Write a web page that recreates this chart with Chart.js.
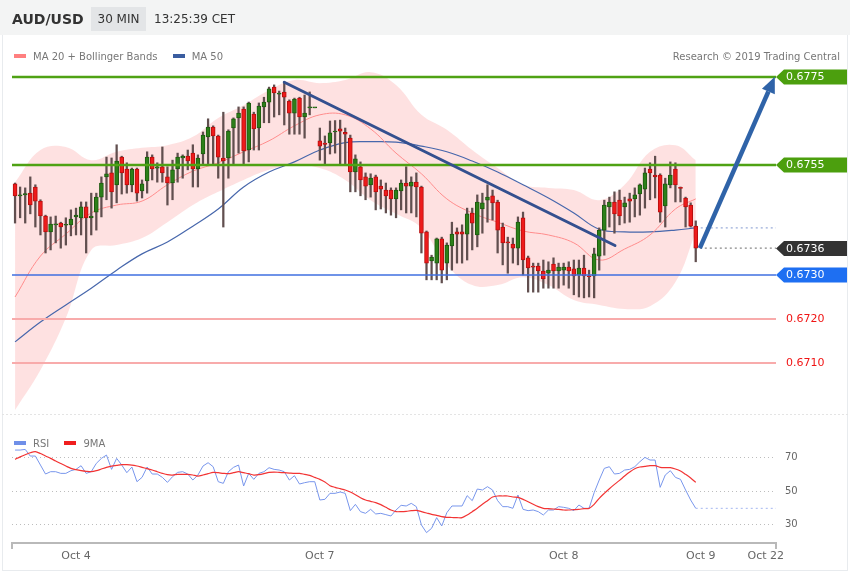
<!DOCTYPE html>
<html lang="en">
<head>
<meta charset="utf-8">
<title>AUD/USD 30 MIN</title>
<script src="https://cdn.jsdelivr.net/npm/chart.js@4.4.1/dist/chart.umd.min.js"></script>
<style>
    body { margin: 0; background: #fff; font-family: "DejaVu Sans", sans-serif; }
    .wrap { position: relative; width: 850px; height: 576px; overflow: hidden; }
    .head { position: absolute; left: 0; top: 0; width: 850px; height: 35px; background: #f3f4f4; }
    .frame { position: absolute; left: 2px; top: 35px; width: 846px; height: 536px; border: 1px solid #e8ebee; border-top: none; box-sizing: border-box; }
    .symbol { position: absolute; left: 12px; top: 7px; line-height: 24px; font-size: 14px; font-weight: bold; color: #333; }
    .period { position: absolute; left: 91px; top: 7px; width: 55px; height: 24px; line-height: 24px; text-align: center; background: #e3e5e7; font-size: 12px; color: #333; }
    .time { position: absolute; left: 154px; top: 7px; line-height: 24px; font-size: 12px; color: #333; }
    .legend { position: absolute; font-size: 10px; color: #777; line-height: 12px; white-space: nowrap; }
    .legend span.sw { display: inline-block; width: 12px; height: 4px; vertical-align: middle; margin-right: 7px; position: relative; top: -1px; }
    .legend .item { margin-right: 12px; }
    canvas { position: absolute; left: 0; top: 0; }
</style>
</head>
<body>
<div class="wrap">
    <div class="head"></div>
    <div class="frame"></div>
    <canvas id="chart" width="850" height="576"></canvas>
    <div class="symbol">AUD/USD</div>
    <div class="period">30 MIN</div>
    <div class="time">13:25:39 CET</div>
    <div class="legend" style="left:14px; top:51px;">
        <span class="item"><span class="sw" style="background:#ff7f7f"></span>MA 20 + Bollinger Bands</span>
        <span class="item"><span class="sw" style="background:#3a5da0"></span>MA 50</span>
    </div>
    <div class="legend" style="right:10px; top:51px;">Research © 2019 Trading Central</div>
    <div class="legend" style="left:14px; top:438px;">
        <span class="item"><span class="sw" style="background:#6f8fe8"></span>RSI</span>
        <span class="item"><span class="sw" style="background:#f01e1e"></span>9MA</span>
    </div>
</div>

<script>
// 30 min candles (index 0 = first bar on the left)
const candleOpen = [
    0.67507, 0.67480, 0.67482, 0.67486, 0.67500, 0.67468, 0.67434, 0.67398, 0.67414, 0.67418,
    0.67413, 0.67414, 0.67432, 0.67430, 0.67455, 0.67430, 0.67443, 0.67477, 0.67523, 0.67532,
    0.67505, 0.67568, 0.67541, 0.67505, 0.67541, 0.67491, 0.67514, 0.67568, 0.67543, 0.67546,
    0.67523, 0.67509, 0.67541, 0.67566, 0.67570, 0.67577, 0.67541, 0.67575, 0.67614, 0.67636,
    0.67616, 0.67566, 0.67566, 0.67634, 0.67657, 0.67677, 0.67584, 0.67666, 0.67634, 0.67682,
    0.67693, 0.67727, 0.67711, 0.67716, 0.67695, 0.67668, 0.67702, 0.67659, 0.67680, 0.67680,
    0.67605, 0.67600, 0.67600, 0.67625, 0.67632, 0.67624, 0.67611, 0.67534, 0.67546, 0.67523,
    0.67505, 0.67523, 0.67502, 0.67493, 0.67493, 0.67473, 0.67491, 0.67509, 0.67502, 0.67511,
    0.67500, 0.67398, 0.67332, 0.67327, 0.67382, 0.67327, 0.67366, 0.67398, 0.67398, 0.67393,
    0.67441, 0.67391, 0.67450, 0.67470, 0.67480, 0.67466, 0.67409, 0.67375, 0.67370, 0.67361,
    0.67430, 0.67339, 0.67320, 0.67320, 0.67309, 0.67304, 0.67325, 0.67309, 0.67311, 0.67318,
    0.67314, 0.67300, 0.67316, 0.67297, 0.67298, 0.67343, 0.67402, 0.67455, 0.67466, 0.67470,
    0.67455, 0.67473, 0.67473, 0.67484, 0.67495, 0.67541, 0.67527, 0.67527, 0.67457, 0.67505,
    0.67541, 0.67498, 0.67475, 0.67459, 0.67411
];
const candleHigh = [
    0.67509, 0.67500, 0.67498, 0.67523, 0.67505, 0.67471, 0.67436, 0.67432, 0.67434, 0.67420,
    0.67430, 0.67448, 0.67452, 0.67466, 0.67466, 0.67486, 0.67486, 0.67523, 0.67568, 0.67566,
    0.67596, 0.67570, 0.67555, 0.67543, 0.67543, 0.67516, 0.67580, 0.67573, 0.67555, 0.67591,
    0.67546, 0.67561, 0.67577, 0.67573, 0.67584, 0.67596, 0.67573, 0.67625, 0.67655, 0.67639,
    0.67618, 0.67670, 0.67630, 0.67657, 0.67682, 0.67682, 0.67693, 0.67670, 0.67691, 0.67704,
    0.67727, 0.67732, 0.67718, 0.67739, 0.67698, 0.67702, 0.67704, 0.67709, 0.67716, 0.67680,
    0.67634, 0.67616, 0.67650, 0.67651, 0.67652, 0.67634, 0.67618, 0.67573, 0.67557, 0.67532,
    0.67530, 0.67527, 0.67516, 0.67509, 0.67498, 0.67498, 0.67516, 0.67546, 0.67523, 0.67532,
    0.67502, 0.67400, 0.67345, 0.67384, 0.67386, 0.67373, 0.67420, 0.67407, 0.67414, 0.67452,
    0.67452, 0.67482, 0.67486, 0.67505, 0.67493, 0.67470, 0.67418, 0.67386, 0.67384, 0.67432,
    0.67443, 0.67343, 0.67327, 0.67327, 0.67334, 0.67330, 0.67339, 0.67327, 0.67327, 0.67330,
    0.67334, 0.67334, 0.67345, 0.67311, 0.67361, 0.67407, 0.67470, 0.67477, 0.67489, 0.67493,
    0.67477, 0.67486, 0.67498, 0.67507, 0.67543, 0.67555, 0.67570, 0.67530, 0.67520, 0.67557,
    0.67555, 0.67500, 0.67477, 0.67464, 0.67423
];
const candleLow = [
    0.67418, 0.67430, 0.67418, 0.67439, 0.67409, 0.67391, 0.67350, 0.67357, 0.67373, 0.67361,
    0.67368, 0.67389, 0.67391, 0.67391, 0.67350, 0.67391, 0.67402, 0.67432, 0.67471, 0.67452,
    0.67464, 0.67484, 0.67486, 0.67489, 0.67468, 0.67475, 0.67486, 0.67516, 0.67511, 0.67511,
    0.67459, 0.67471, 0.67511, 0.67520, 0.67539, 0.67500, 0.67500, 0.67550, 0.67550, 0.67550,
    0.67520, 0.67409, 0.67520, 0.67550, 0.67577, 0.67550, 0.67557, 0.67584, 0.67584, 0.67646,
    0.67646, 0.67659, 0.67664, 0.67641, 0.67620, 0.67620, 0.67620, 0.67611, 0.67664, 0.67680,
    0.67561, 0.67550, 0.67575, 0.67577, 0.67550, 0.67550, 0.67489, 0.67489, 0.67480, 0.67471,
    0.67477, 0.67448, 0.67450, 0.67441, 0.67436, 0.67430, 0.67448, 0.67441, 0.67441, 0.67432,
    0.67350, 0.67289, 0.67289, 0.67289, 0.67282, 0.67289, 0.67311, 0.67327, 0.67327, 0.67334,
    0.67357, 0.67364, 0.67395, 0.67420, 0.67425, 0.67350, 0.67323, 0.67304, 0.67327, 0.67323,
    0.67300, 0.67261, 0.67261, 0.67261, 0.67270, 0.67270, 0.67270, 0.67270, 0.67277, 0.67270,
    0.67255, 0.67250, 0.67248, 0.67250, 0.67248, 0.67311, 0.67345, 0.67409, 0.67395, 0.67414,
    0.67418, 0.67420, 0.67432, 0.67436, 0.67452, 0.67471, 0.67475, 0.67420, 0.67409, 0.67498,
    0.67466, 0.67466, 0.67409, 0.67409, 0.67330
];
const candleClose = [
    0.67480, 0.67482, 0.67485, 0.67459, 0.67468, 0.67434, 0.67398, 0.67416, 0.67416, 0.67409,
    0.67414, 0.67427, 0.67436, 0.67455, 0.67430, 0.67434, 0.67477, 0.67509, 0.67530, 0.67489,
    0.67559, 0.67532, 0.67505, 0.67541, 0.67486, 0.67507, 0.67568, 0.67541, 0.67546, 0.67532,
    0.67509, 0.67539, 0.67568, 0.67570, 0.67559, 0.67541, 0.67566, 0.67618, 0.67636, 0.67616,
    0.67568, 0.67559, 0.67627, 0.67655, 0.67668, 0.67582, 0.67691, 0.67632, 0.67684, 0.67693,
    0.67723, 0.67714, 0.67711, 0.67704, 0.67668, 0.67700, 0.67659, 0.67668, 0.67680, 0.67680,
    0.67593, 0.67597, 0.67623, 0.67626, 0.67627, 0.67620, 0.67534, 0.67564, 0.67516, 0.67502,
    0.67520, 0.67489, 0.67495, 0.67480, 0.67473, 0.67493, 0.67509, 0.67502, 0.67511, 0.67500,
    0.67395, 0.67327, 0.67341, 0.67382, 0.67311, 0.67368, 0.67393, 0.67393, 0.67393, 0.67439,
    0.67418, 0.67466, 0.67464, 0.67477, 0.67464, 0.67402, 0.67373, 0.67373, 0.67361, 0.67420,
    0.67334, 0.67316, 0.67318, 0.67309, 0.67291, 0.67311, 0.67309, 0.67318, 0.67318, 0.67309,
    0.67298, 0.67316, 0.67298, 0.67296, 0.67348, 0.67402, 0.67459, 0.67466, 0.67439, 0.67434,
    0.67464, 0.67468, 0.67482, 0.67505, 0.67532, 0.67532, 0.67523, 0.67443, 0.67507, 0.67527,
    0.67505, 0.67497, 0.67455, 0.67411, 0.67361
];

// Bollinger bands, MA 20 and MA 50 (read every 5 bars)
const bandIndex = [0, 5, 10, 15, 20, 25, 30, 35, 40, 45, 50, 55, 60, 65, 70, 75, 80, 85, 90, 95, 100, 105, 110, 115, 120, 125, 130, 134];
const bandUpper = [0.67511, 0.67584, 0.67591, 0.67561, 0.67580, 0.67589, 0.67595, 0.67614, 0.67657, 0.67686, 0.67720, 0.67743, 0.67736, 0.67743,
    0.67761, 0.67732, 0.67664, 0.67630, 0.67584, 0.67543, 0.67505, 0.67498, 0.67493, 0.67470, 0.67505, 0.67580, 0.67595, 0.67561];
const bandLower = [0.66993, 0.67084, 0.67202, 0.67357, 0.67368, 0.67384, 0.67420, 0.67459, 0.67489, 0.67516, 0.67539, 0.67550, 0.67543, 0.67516,
    0.67470, 0.67439, 0.67407, 0.67323, 0.67277, 0.67277, 0.67295, 0.67277, 0.67243, 0.67232, 0.67223, 0.67229, 0.67284, 0.67398];
const ma20 = [0.67250, 0.67343, 0.67393, 0.67441, 0.67459, 0.67468, 0.67505, 0.67536, 0.67555, 0.67580, 0.67605, 0.67639, 0.67664, 0.67664,
    0.67632, 0.67577, 0.67530, 0.67473, 0.67441, 0.67420, 0.67400, 0.67391, 0.67373, 0.67334, 0.67359, 0.67391, 0.67450, 0.67473];
const ma50 = [0.67148, 0.67193, 0.67232, 0.67270, 0.67311, 0.67348, 0.67375, 0.67411, 0.67450, 0.67500, 0.67534, 0.67557, 0.67584, 0.67601,
    0.67603, 0.67602, 0.67593, 0.67580, 0.67559, 0.67534, 0.67505, 0.67475, 0.67441, 0.67404, 0.67398, 0.67398, 0.67402, 0.67407];

// RSI panel
const rsiValues = [
    74.6, 74.6, 75, 71, 71, 65.6, 60.2, 61.6, 61.6, 60.6,
    60.6, 62.2, 63, 65.2, 60.6, 61.6, 66.6, 69.6, 71.6, 63,
    69.6, 65.6, 61, 64.4, 55.6, 58.2, 64.4, 60.2, 60.2, 58.2,
    55.2, 58.6, 61.2, 61.6, 60.2, 56.6, 59.6, 65, 67, 64.6,
    55.6, 54.6, 61.6, 64.2, 65.6, 53, 60.6, 57, 60.6, 61.6,
    64, 63, 62.6, 61.6, 56.6, 59.2, 54.2, 55, 55.6, 55.6,
    44.6, 45, 48.6, 48.6, 49.4, 48.6, 38.2, 42, 37.6, 36.6,
    39, 36.2, 36.6, 35.8, 35, 38.6, 41.4, 41, 42.6, 40.6,
    29.6, 25, 27.6, 34, 29, 37, 41, 41, 41, 47.2,
    44.2, 51.2, 50.6, 52.6, 50.6, 44.2, 40.6, 40.6, 39.6, 47.6,
    39, 38.2, 38.6, 37.6, 35.6, 38.6, 38.6, 40.6, 40.2, 39.6,
    38.2, 41.6, 39.6, 39.6, 49, 56.6, 63.6, 64.6, 60.2, 60.6,
    62.6, 63, 64.6, 67.6, 70.2, 68.6, 68.6, 52.2, 59.6, 62.2,
    58.2, 57, 50.6, 44.6, 39.6
];
const rsiMa9 = [
    69, 70.5, 71.8, 73, 73.6, 72.5, 71, 69.6, 68, 66.5,
    65, 63.6, 62.8, 62.2, 61.8, 61.6, 62.2, 63.2, 64.2, 65,
    65.4, 65.8, 65.8, 65.6, 65, 64.2, 63.4, 62.6, 61.6, 60.6,
    59.8, 59.6, 60, 60, 60, 59.6, 59, 59.6, 60.4, 61.2,
    61, 60.6, 60.4, 61, 61.6, 61, 60.4, 59.6, 59.8, 60.4,
    61.2, 61.4, 61.2, 61, 60.8, 60.6, 60.6, 60, 59.4, 58.2,
    57, 55.4, 53.2, 52.2, 51.4, 50.6, 49.4, 47.8, 46, 44.6,
    43.8, 43, 41.8, 40.2, 38.6, 37.6, 37.6, 37.8, 38.2, 38.4,
    37.6, 36.8, 36, 35.4, 34.6, 34.2, 34.1, 34, 34, 35.6,
    37.6, 39.6, 42, 44.2, 46.4, 47, 47, 47, 46.4, 46.2,
    45, 43.6, 42, 40.6, 39.6, 39.4, 39.2, 39, 38.6, 38.6,
    38.8, 39, 39.4, 39.6, 42, 45.6, 48.6, 51.4, 54, 56.4,
    59, 61.4, 63.4, 64.4, 64.8, 65.2, 65.2, 64.2, 64, 64,
    63.2, 62, 60, 57.8, 55.2
];

// Key levels and drawings
const resistances = [0.6775, 0.6755];
const pivot = 0.6730;
const supports = [0.6720, 0.6710];
const lastPrice = 0.6736;
const trendLine = [[53, 0.67738], [118.1, 0.67367]];
const arrowLine = [[134.8, 0.67361], [148.3, 0.67717]];

// x axis: bar index range and date labels
const xRange = [-0.6, 149.8];
const tickPositions = [12, 60, 108, 135, 147.8];
const tickLabels = ['Oct 4', 'Oct 7', 'Oct 8', 'Oct 9', 'Oct 22'];
const rsiTicks = [30, 50, 70];

Chart.defaults.font.family = '"DejaVu Sans", sans-serif';

document.addEventListener('DOMContentLoaded', () => {
    drawChart();
});

function hline(value, x0, x1) {
    return [{ x: x0, y: value }, { x: x1, y: value }];
}

function drawChart() {
    const idx = candleOpen.map((_, i) => i);
    const up = idx.map(i => candleClose[i] >= candleOpen[i]);
    const lastIdx = idx.length - 1;
    const [xMin, xMax] = xRange;

    const datasets = [];

    // 1. Bollinger area + moving averages
    datasets.push({
        type: 'line', label: 'upper', data: bandIndex.map((v, k) => ({ x: v, y: bandUpper[k] })),
        borderWidth: 0, pointRadius: 0, tension: 0.4, fill: '+1',
        backgroundColor: 'rgba(253, 196, 196, 0.5)', borderColor: 'rgba(0,0,0,0)', order: 30
    });
    datasets.push({
        type: 'line', label: 'lower', data: bandIndex.map((v, k) => ({ x: v, y: bandLower[k] })),
        borderWidth: 0, pointRadius: 0, tension: 0.4, fill: false, borderColor: 'rgba(0,0,0,0)', order: 30
    });
    datasets.push({
        type: 'line', label: 'ma20', data: bandIndex.map((v, k) => ({ x: v, y: ma20[k] })),
        borderWidth: 1, pointRadius: 0, tension: 0.4, borderColor: '#ff8c8c', order: 20
    });
    datasets.push({
        type: 'line', label: 'ma50', data: bandIndex.map((v, k) => ({ x: v, y: ma50[k] })),
        borderWidth: 1.2, pointRadius: 0, tension: 0.4, borderColor: '#4767ac', order: 20
    });
    datasets.push({
        type: 'line', label: 'ma50-ext', data: hline(ma50[ma50.length - 1], lastIdx, xMax),
        borderWidth: 1, pointRadius: 0, borderDash: [2, 3], borderColor: '#7f97cf', order: 20
    });

    // 2. Candles: wick + body as floating bars
    datasets.push({
        type: 'bar', label: 'wick', data: idx.map(i => ({ x: i, y: [candleLow[i], candleHigh[i]] })),
        backgroundColor: '#614f4f', barThickness: 1.6, grouped: false, order: 10
    });
    datasets.push({
        type: 'bar', label: 'body', data: idx.map(i => ({ x: i, y: [candleOpen[i], candleClose[i]] })),
        backgroundColor: up.map(u => u ? '#2c8019' : '#ee1b1b'),
        borderColor: up.map(u => u ? '#1c5a0f' : '#b90e0e'),
        borderWidth: 1, borderSkipped: false, barThickness: 4, minBarLength: 1, grouped: false, order: 9
    });

    // 3. Levels
    resistances.forEach(v => datasets.push({
        type: 'line', label: 'res', data: hline(v, xMin, xMax), borderWidth: 2.5, pointRadius: 0,
        borderColor: '#4fa214', order: 3
    }));
    datasets.push({
        type: 'line', label: 'pivot', data: hline(pivot, xMin, xMax), borderWidth: 1.5, pointRadius: 0,
        borderColor: '#3f6fe0', order: 3
    });
    supports.forEach(v => datasets.push({
        type: 'line', label: 'sup', data: hline(v, xMin, xMax), borderWidth: 2, pointRadius: 0,
        borderColor: '#f8abab', order: 3
    }));
    datasets.push({
        type: 'line', label: 'last', data: hline(candleClose[lastIdx], arrowLine[0][0], xMax), borderWidth: 1.2,
        pointRadius: 0, borderDash: [2, 3], borderColor: '#888', order: 3
    });
    datasets.push({
        type: 'line', label: 'trend', data: trendLine.map(p => ({ x: p[0], y: p[1] })), borderWidth: 3,
        pointRadius: 0, borderColor: '#34508f', borderCapStyle: 'round', order: 2
    });
    datasets.push({
        type: 'line', label: 'arrow', data: arrowLine.map(p => ({ x: p[0], y: p[1] })), borderWidth: 4.5,
        pointRadius: 0, borderColor: '#2f63a8', order: 1
    });

    // 4. RSI panel
    datasets.push({
        type: 'line', label: 'rsi', yAxisID: 'yRsi', data: idx.map(i => ({ x: i, y: rsiValues[i] })),
        borderWidth: 1, pointRadius: 0, borderColor: '#7896ec', order: 6
    });
    datasets.push({
        type: 'line', label: 'rsi-ext', yAxisID: 'yRsi', data: hline(rsiValues[lastIdx], lastIdx, xMax),
        borderWidth: 1, pointRadius: 0, borderDash: [2, 3], borderColor: '#a3b6f0', order: 6
    });
    datasets.push({
        type: 'line', label: '9ma', yAxisID: 'yRsi', data: idx.map(i => ({ x: i, y: rsiMa9[i] })),
        borderWidth: 1.2, pointRadius: 0, tension: 0.3, borderColor: '#f23434', order: 5
    });

    const arrowIndex = datasets.findIndex(d => d.label === 'arrow');

    // tags on the right + arrow head + panel split
    const overlay = {
        id: 'overlay',
        afterDatasetsDraw(chart) {
            const { ctx, chartArea, scales } = chart;
            const y = scales.y;
            ctx.save();

            const splitY = Math.round(y.getPixelForValue(0.66985)) + 0.5;
            ctx.strokeStyle = '#e4e4e4';
            ctx.lineWidth = 1;
            ctx.setLineDash([2, 2]);
            ctx.beginPath();
            ctx.moveTo(chartArea.left - 10, splitY);
            ctx.lineTo(848, splitY);
            ctx.stroke();
            ctx.setLineDash([]);

            // end ticks of x axis
            ctx.strokeStyle = '#b9b9b9';
            ctx.lineWidth = 2;
            ctx.beginPath();
            ctx.moveTo(chartArea.left, chartArea.bottom);
            ctx.lineTo(chartArea.left, chartArea.bottom + 6);
            ctx.moveTo(chartArea.right, chartArea.bottom);
            ctx.lineTo(chartArea.right, chartArea.bottom + 6);
            ctx.stroke();

            // arrow head
            const pts = chart.getDatasetMeta(arrowIndex).data;
            const a = pts[0], b = pts[1];
            const ang = Math.atan2(b.y - a.y, b.x - a.x);
            ctx.fillStyle = '#2f63a8';
            ctx.beginPath();
            ctx.moveTo(b.x + Math.cos(ang) * 16, b.y + Math.sin(ang) * 16);
            ctx.lineTo(b.x + Math.cos(ang + Math.PI / 2) * 7, b.y + Math.sin(ang + Math.PI / 2) * 7);
            ctx.lineTo(b.x - Math.cos(ang + Math.PI / 2) * 7, b.y - Math.sin(ang + Math.PI / 2) * 7);
            ctx.closePath();
            ctx.fill();

            // price tags
            ctx.font = '11px "DejaVu Sans"';
            ctx.textBaseline = 'middle';
            const tag = (value, bg, text) => {
                const py = y.getPixelForValue(value);
                const x0 = chartArea.right, x1 = x0 + 8, x2 = 847, h = 7.5;
                ctx.fillStyle = bg;
                ctx.beginPath();
                ctx.moveTo(x0, py);
                ctx.lineTo(x1, py - h);
                ctx.lineTo(x2, py - h);
                ctx.lineTo(x2, py + h);
                ctx.lineTo(x1, py + h);
                ctx.closePath();
                ctx.fill();
                ctx.fillStyle = '#fff';
                ctx.fillText(text, x0 + 10, py + 0.5);
            };
            resistances.forEach(v => tag(v, '#4c9f0e', v.toFixed(4)));
            tag(lastPrice, '#333333', lastPrice.toFixed(4));
            tag(pivot, '#1e6ff2', pivot.toFixed(4));
            ctx.fillStyle = '#f01414';
            supports.forEach(v => ctx.fillText(v.toFixed(4), chartArea.right + 10, y.getPixelForValue(v) + 0.5));

            ctx.restore();
        }
    };

    const ctx = document.getElementById('chart').getContext('2d');
    new Chart(ctx, {
        type: 'line',
        data: { datasets: datasets },
        options: {
            responsive: false,
            animation: false,
            events: [],
            layout: { padding: { left: 12, right: 14, top: 70, bottom: 11 } },
            plugins: { legend: { display: false }, tooltip: { enabled: false } },
            scales: {
                x: {
                    type: 'linear', min: xMin, max: xMax, offset: false,
                    grid: { display: false, drawTicks: false },
                    border: { display: true, color: '#b9b9b9', width: 2 },
                    ticks: {
                        padding: 7, color: '#666', font: { size: 11 }, maxRotation: 0, autoSkip: false,
                        callback: (value, index) => tickLabels[index]
                    },
                    afterBuildTicks: s => { s.ticks = tickPositions.map(v => ({ value: v })); },
                    afterFit: s => { s.height = 22; }
                },
                y: {
                    display: false, min: 0.666909, max: 0.677659
                },
                yRsi: {
                    axis: 'y', position: 'right', min: 18.77, max: 302.9,
                    grid: { color: '#bdbdbd', lineWidth: 1, drawTicks: false },
                    border: { display: false, dash: [1, 3] },
                    ticks: { padding: 9, color: '#666', font: { size: 10 } },
                    afterBuildTicks: s => { s.ticks = rsiTicks.map(v => ({ value: v })); },
                    afterFit: s => { s.width = 60; }
                }
            }
        },
        plugins: [overlay]
    });
}
</script>
</body>
</html>
